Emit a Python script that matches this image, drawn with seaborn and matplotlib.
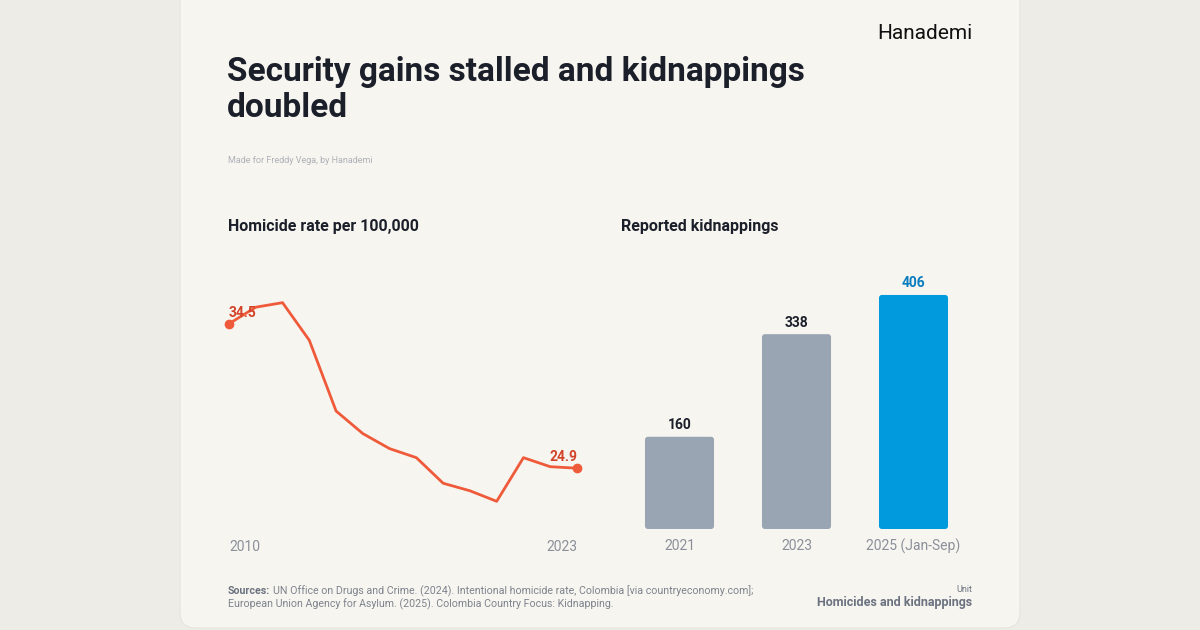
import numpy as np
import pandas as pd
import seaborn as sns
import matplotlib.pyplot as plt
from matplotlib.patches import FancyBboxPatch
from matplotlib.transforms import IdentityTransform

# Data
years = list(range(2010, 2024))
homicide_rate = [34.5, 35.6, 35.9, 33.4, 28.7, 27.2, 26.2, 25.6, 23.9, 23.4, 22.7, 25.6, 25.0, 24.9]
kid_labels = ['2021', '2023', '2025 (Jan-Sep)']
kidnappings = [160, 338, 406]

line_df = pd.DataFrame({'year': years, 'rate': homicide_rate})
bar_df = pd.DataFrame({'period': kid_labels, 'count': kidnappings})

sns.set_theme(style='white')
plt.rcParams['font.family'] = ['Roboto', 'DejaVu Sans']

W, H = 1200, 630
fig = plt.figure(figsize=(12, 6.3), dpi=100)
fig.patch.set_facecolor('#EDECE7')

card = FancyBboxPatch((180, 2), 840, 660, boxstyle='round,pad=0,rounding_size=16',
                      transform=IdentityTransform(), facecolor='#F7F5F0',
                      edgecolor='#E6E4DE', linewidth=0.8, zorder=0)
fig.add_artist(card)


def fx(px):
    return px / W


def fy(py):
    return 1 - py / H


dark = '#1B1F2A'
gray = '#8A8F99'
red_line = '#EF5B3A'
red_text = '#D2432A'
bar_gray = '#9AA5B3'
bar_blue = '#009ADD'

# Header
fig.text(fx(227), fy(81), 'Security gains stalled and kidnappings', fontsize=24,
         fontweight='bold', color=dark, ha='left', va='baseline')
fig.text(fx(227), fy(117), 'doubled', fontsize=24,
         fontweight='bold', color=dark, ha='left', va='baseline')
fig.text(fx(972), fy(39), 'Hanademi', fontsize=15, color='#111111', ha='right', va='baseline')
fig.text(fx(228), fy(163), 'Made for Freddy Vega, by Hanademi', fontsize=6.5,
         color='#AEB1B8', ha='left', va='baseline')

fig.text(fx(228), fy(231), 'Homicide rate per 100,000', fontsize=11.5, fontweight='bold',
         color=dark, ha='left', va='baseline')
fig.text(fx(621), fy(231), 'Reported kidnappings', fontsize=11.5, fontweight='bold',
         color=dark, ha='left', va='baseline')

# Line chart
ax1 = fig.add_axes([fx(229), fy(529), fx(577) - fx(229), (529 - 250) / H])
ax1.set_facecolor('none')
sns.lineplot(data=line_df, x='year', y='rate', ax=ax1, color=red_line, linewidth=2.0)
ax1.plot([years[0], years[-1]], [homicide_rate[0], homicide_rate[-1]], 'o',
         color=red_line, markersize=6, clip_on=False)
ax1.set_xlim(years[0], years[-1])
ax1.set_ylim(20.86, 39.4)
ax1.text(years[0], homicide_rate[0] + 0.25, f'{homicide_rate[0]}', color=red_text,
         fontsize=10, fontweight='bold', ha='left', va='bottom')
ax1.text(years[-1], homicide_rate[-1] + 0.3, f'{homicide_rate[-1]}', color=red_text,
         fontsize=10, fontweight='bold', ha='right', va='bottom')
ax1.set_xticks([years[0], years[-1]])
ax1.set_xticklabels([str(years[0]), str(years[-1])])
labs = ax1.get_xticklabels()
labs[0].set_ha('left')
labs[1].set_ha('right')
ax1.set_yticks([])
ax1.set_xlabel('')
ax1.set_ylabel('')
ax1.tick_params(axis='x', length=0, pad=8, labelsize=10, labelcolor=gray)
sns.despine(ax=ax1, left=True, bottom=True)

# Bar chart
ax2 = fig.add_axes([fx(621), fy(529), fx(972) - fx(621), (529 - 250) / H])
ax2.set_facecolor('none')
sns.barplot(data=bar_df, x='period', y='count', hue='period', ax=ax2,
            palette=[bar_gray, bar_gray, bar_blue], width=0.59, legend=False,
            saturation=1, linewidth=0)
ax2.set_xlim(-0.5, 2.5)
ax2.set_ylim(0, 484)

# rounded corners on the bars
px_per_x = (972 - 621) / 3
px_per_y = (529 - 250) / 484
for p in list(ax2.patches):
    r = FancyBboxPatch((p.get_x(), p.get_y()), p.get_width(), p.get_height(),
                       boxstyle='round,pad=0,rounding_size=0.025',
                       mutation_aspect=px_per_x / px_per_y,
                       facecolor=p.get_facecolor(), edgecolor='none')
    p.set_visible(False)
    ax2.add_patch(r)

label_colors = [dark, dark, '#0B7DBF']
for i, v in enumerate(kidnappings):
    ax2.text(i, v + 8, str(v), ha='center', va='bottom', fontsize=10, fontweight='bold',
             color=label_colors[i])
ax2.set_yticks([])
ax2.set_xlabel('')
ax2.set_ylabel('')
ax2.tick_params(axis='x', length=0, pad=7, labelsize=10, labelcolor=gray)
sns.despine(ax=ax2, left=True, bottom=True)

# Footer
src_bold = fig.text(fx(228), fy(594), 'Sources:', fontsize=7.7, fontweight='bold',
                    color='#6B7280', ha='left', va='baseline')
fig.canvas.draw()
bb = src_bold.get_window_extent()
fig.text((bb.x1 + 3) / W, fy(594),
         'UN Office on Drugs and Crime. (2024). Intentional homicide rate, Colombia [via countryeconomy.com];',
         fontsize=7.7, color='#7D838D', ha='left', va='baseline')
fig.text(fx(228), fy(607), 'European Union Agency for Asylum. (2025). Colombia Country Focus: Kidnapping.',
         fontsize=7.7, color='#7D838D', ha='left', va='baseline')
fig.text(fx(972), fy(592), 'Unit', fontsize=6.5, color='#6B7280', ha='right', va='baseline')
fig.text(fx(972), fy(606), 'Homicides and kidnappings', fontsize=9, fontweight='bold',
         color='#6B7280', ha='right', va='baseline')

plt.savefig('out.png', dpi=100, facecolor=fig.get_facecolor())
plt.close()
